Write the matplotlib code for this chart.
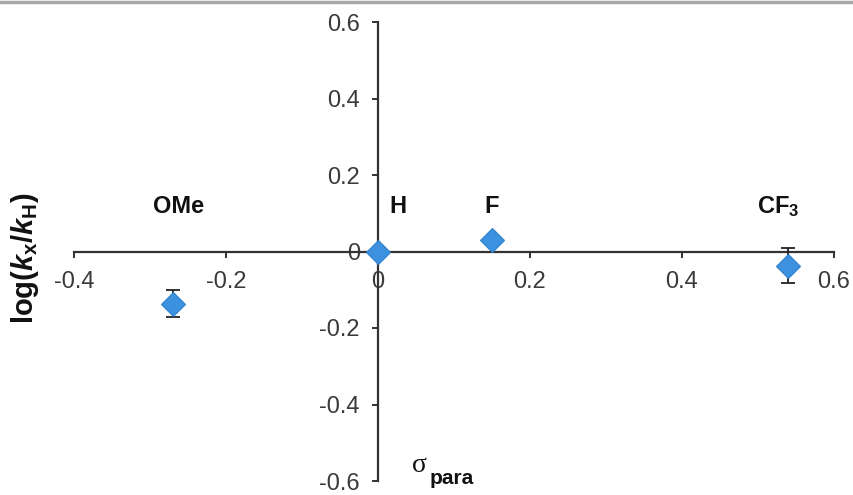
import numpy as np
import matplotlib
matplotlib.use("Agg")
import matplotlib.pyplot as plt
from matplotlib.lines import Line2D

# Hammett plot data
substituents = ["OMe", "H", "F", "CF$_3$"]
sigma_para = [-0.27, 0.0, 0.15, 0.54]
log_ratio = [-0.136, 0.0, 0.029, -0.037]
log_err = [0.035, 0.0, 0.0, 0.046]

x_ticks = [-0.4, -0.2, 0, 0.2, 0.4, 0.6]
y_ticks = [-0.6, -0.4, -0.2, 0, 0.2, 0.4, 0.6]

plt.rcParams['font.family'] = ['Liberation Sans', 'DejaVu Sans']
plt.rcParams['mathtext.fontset'] = 'custom'
plt.rcParams['mathtext.rm'] = 'Liberation Sans:bold'
plt.rcParams['mathtext.it'] = 'Liberation Sans:bold:italic'
plt.rcParams['mathtext.bf'] = 'Liberation Sans:bold'

fig = plt.figure(figsize=(8.54, 4.95), dpi=100)
ax = fig.add_axes([74 / 854, 14 / 495, 760 / 854, 459 / 495])

axis_col = '#333333'
ax.set_xlim(-0.4, 0.6)
ax.set_ylim(-0.6, 0.6)
ax.spines['left'].set_position(('data', 0))
ax.spines['bottom'].set_position(('data', 0))
ax.spines['top'].set_visible(False)
ax.spines['right'].set_visible(False)
for s in ('left', 'bottom'):
    ax.spines[s].set_color(axis_col)
    ax.spines[s].set_linewidth(1.6)

ax.set_xticks(x_ticks)
ax.set_xticklabels([f"{v:g}" for v in x_ticks])
ax.set_yticks(y_ticks)
ax.set_yticklabels([f"{v:g}" for v in y_ticks])
ax.tick_params(axis='x', direction='out', length=4, width=1.4, color=axis_col,
               labelsize=17, labelcolor='#3a3a3a', pad=10)
ax.tick_params(axis='y', direction='out', length=4, width=1.4, color=axis_col,
               labelsize=17, labelcolor='#3a3a3a', pad=9)

ax.errorbar(sigma_para, log_ratio, yerr=log_err, fmt='none', ecolor='#222222',
            elinewidth=1.3, capsize=5, capthick=1.3, zorder=3)
ax.plot(sigma_para, log_ratio, 'D', ms=12, color='#3d92df', mec='#2f80cc',
        mew=0.8, zorder=4, clip_on=False)

# substituent labels above the points
label_dx = [0.007, 0.026, 0.0, -0.014]
for name, x, dx in zip(substituents, sigma_para, label_dx):
    ax.text(x + dx, 0.118, name, fontsize=17, fontweight='bold',
            ha='center', va='center', color='#111111')

# axis labels
fig.text(412 / 854, 1 - 466 / 495, "σ", family='Liberation Serif',
         fontsize=20, ha='left', va='center', color='#111111')
fig.text(430 / 854, 1 - 478 / 495, "para", fontsize=15, fontweight='bold',
         ha='left', va='center', color='#111111')
fig.text(25 / 854, 1 - 258 / 495, r"$\mathrm{log(}k_\mathrm{x}\mathrm{/}k_\mathrm{H}\mathrm{)}$",
         fontsize=21, rotation=90, ha='center', va='center', color='#111111')

# grey rule along the top edge
fig.add_artist(Line2D([0, 1], [1 - 2 / 495, 1 - 2 / 495], color='#a8a8a8', lw=2.5,
                      transform=fig.transFigure))

fig.savefig("out.png", dpi=100)
